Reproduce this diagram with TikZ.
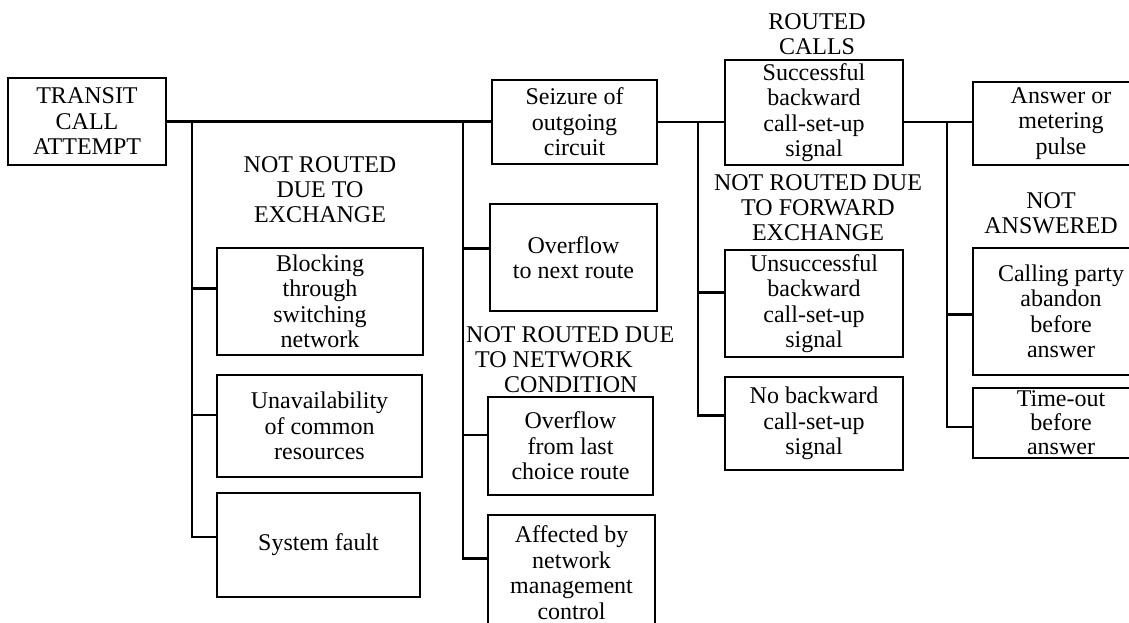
\documentclass[tikz,border=0pt]{standalone}
\usepackage{fontspec}
\setmainfont{Liberation Serif}
\begin{document}
\begin{tikzpicture}[x=1pt,y=-1pt,
  box/.style={draw, line width=2.5pt, inner sep=0pt, align=center,
    font=\fontsize{24}{25.5}\selectfont},
  head/.style={inner sep=0pt, align=center, font=\fontsize{24}{25}\selectfont},
  link/.style={line width=2.5pt}]
\useasboundingbox (0,0) rectangle (1129,623);
\clip (0,0) rectangle (1129,623);

% first column
\node[box, minimum width=158, minimum height=87] (transit) at (87,121.5) {TRANSIT\\CALL\\ATTEMPT};

% exchange failures
\node[head] (exch) at (320,190) {NOT ROUTED\\DUE TO\\EXCHANGE};
\node[box, minimum width=206, minimum height=107] (block) at (320,301.5) {Blocking\\through\\switching\\network};
\node[box, minimum width=205, minimum height=102] (unavail) at (319.5,426) {Unavailability\\of common\\resources};
\node[box, minimum width=203, minimum height=104] (fault) at (318.5,545) {System fault};

% outgoing circuit and network condition
\node[box, minimum width=165, minimum height=84] (seizure) at (574.5,122) {Seizure of\\outgoing\\circuit};
\node[box, minimum width=167, minimum height=107] (overnext) at (573.5,257.5) {Overflow\\to next route};
\node[head, align=left, anchor=north west] (netcond) at (466,326) {NOT ROUTED DUE\\\hspace*{9pt}TO NETWORK\\\hspace*{38pt}CONDITION};
\node[box, minimum width=165, minimum height=98] (overlast) at (570.5,446) {Overflow\\from last\\choice route};
\node[box, minimum width=167, minimum height=115] (affected) at (571.5,572.5) {Affected by\\network\\management\\control};

% backward signals
\node[head] (routed) at (817,34) {ROUTED\\CALLS};
\node[box, minimum width=178, minimum height=105] (success) at (814,112.5) {Successful\\backward\\call-set-up\\signal};
\node[head] (fwd) at (818,208) {NOT ROUTED DUE\\TO FORWARD\\EXCHANGE};
\node[box, minimum width=178, minimum height=107] (unsucc) at (814,303.5) {Unsuccessful\\backward\\call-set-up\\signal};
\node[box, minimum width=178, minimum height=93] (noback) at (814,423.5) {No backward\\call-set-up\\signal};

% answer stage
\node[box, minimum width=176, minimum height=83] (answer) at (1061,123.5) {Answer or\\metering\\pulse};
\node[head] (notans) at (1051,213) {NOT\\ANSWERED};
\node[box, minimum width=176, minimum height=127] (calling) at (1061,311.5) {Calling party\\abandon\\before\\answer};
\node[box, minimum width=176, minimum height=70, font=\fontsize{24}{24}\selectfont] (timeout) at (1061,423) {Time-out\\before\\answer};

% branch points on the main line
\coordinate (j1) at (192,122);
\coordinate (j2) at (463,122);
\coordinate (j3) at (698,122);
\coordinate (j4) at (947,122);

% main line
\draw[link] (transit.east) -- (transit.east -| seizure.west);
\draw[link] (seizure.east) -- (seizure.east -| success.west);
\draw[link] (seizure.east -| success.east) -- (seizure.east -| answer.west);

% branches
\draw[link] ([yshift=13pt]block.west) -| (j1);
\draw[link] ([yshift=11pt]unavail.west) -| (j1);
\draw[link] ([yshift=8pt]fault.west) -| (j1);

\draw[link] ([yshift=9pt]overnext.west) -| (j2);
\draw[link] ([yshift=11pt]overlast.west) -| (j2);
\draw[link] ([yshift=14pt]affected.west) -| (j2);

\draw[link] ([yshift=11pt]unsucc.west) -| (j3);
\draw[link] ([yshift=8pt]noback.west) -| (j3);

\draw[link] ([yshift=-3pt]calling.west) -| (j4);
\draw[link] ([yshift=-4pt]timeout.west) -| (j4);
\end{tikzpicture}
\end{document}
